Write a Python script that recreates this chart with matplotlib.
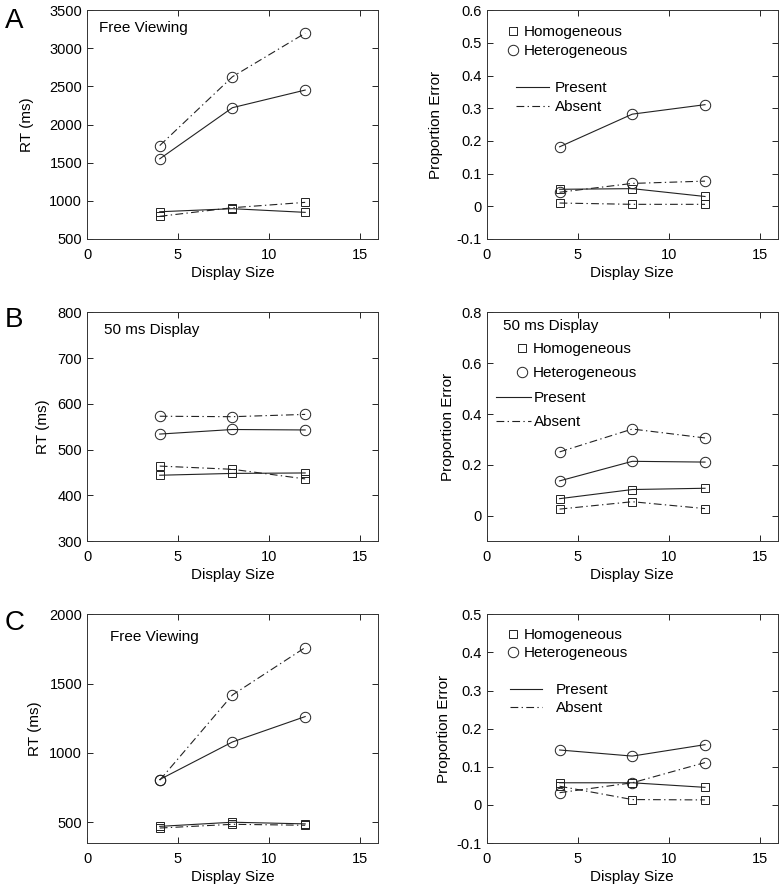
import numpy as np
import matplotlib
matplotlib.use("Agg")
import matplotlib.pyplot as plt
from matplotlib.lines import Line2D
from matplotlib.ticker import FormatStrFormatter

plt.rcParams['font.family'] = ['Liberation Sans', 'DejaVu Sans']
plt.rcParams['font.size'] = 10.5

# Dữ liệu
sizes = [4, 8, 12]

# A - Free Viewing
a_rt_hom_present = [857, 897, 849]
a_rt_hom_absent = [797, 910, 980]
a_rt_het_present = [1551, 2222, 2453]
a_rt_het_absent = [1725, 2628, 3199]
a_err_hom_present = [0.052, 0.054, 0.030]
a_err_hom_absent = [0.010, 0.006, 0.006]
a_err_het_present = [0.182, 0.282, 0.311]
a_err_het_absent = [0.043, 0.070, 0.077]

# B - 50 ms Display
b_rt_hom_present = [444, 448, 449]
b_rt_hom_absent = [464, 457, 436]
b_rt_het_present = [534, 544, 543]
b_rt_het_absent = [573, 572, 577]
b_err_hom_present = [0.067, 0.103, 0.108]
b_err_hom_absent = [0.026, 0.055, 0.028]
b_err_het_present = [0.137, 0.214, 0.211]
b_err_het_absent = [0.251, 0.341, 0.306]

# C - Free Viewing
c_rt_hom_present = [470, 500, 488]
c_rt_hom_absent = [458, 485, 478]
c_rt_het_present = [808, 1079, 1262]
c_rt_het_absent = [803, 1418, 1760]
c_err_hom_present = [0.058, 0.058, 0.046]
c_err_hom_absent = [0.049, 0.014, 0.013]
c_err_het_present = [0.144, 0.128, 0.158]
c_err_het_absent = [0.032, 0.058, 0.111]

DASHDOT = (0, (7, 3, 1.2, 3))
LW = 0.8
COL = '#222222'


def draw(ax, hp, ha, tp, ta):
    ax.plot(sizes, hp, color=COL, lw=LW, ls='-', marker='s', ms=5.5, mfc='none', mec=COL, mew=0.7)
    ax.plot(sizes, ha, color=COL, lw=LW, ls=DASHDOT, marker='s', ms=5.5, mfc='none', mec=COL, mew=0.7)
    ax.plot(sizes, tp, color=COL, lw=LW, ls='-', marker='o', ms=7.5, mfc='none', mec=COL, mew=0.7)
    ax.plot(sizes, ta, color=COL, lw=LW, ls=DASHDOT, marker='o', ms=7.5, mfc='none', mec=COL, mew=0.7)


def style(ax, ylim, yticks, ylabel, lpad, fmt=None):
    ax.set_xlim(0, 16)
    ax.set_xticks([0, 5, 10, 15])
    ax.set_ylim(*ylim)
    ax.set_yticks(yticks)
    if fmt:
        ax.yaxis.set_major_formatter(FormatStrFormatter(fmt))
    ax.tick_params(direction='in', top=True, right=True, length=4, width=0.6, labelsize=10.5)
    ax.tick_params(axis='x', pad=6.5)
    for s in ax.spines.values():
        s.set_linewidth(0.7)
        s.set_color('#333333')
    ax.set_xlabel('Display Size', fontsize=11, labelpad=3)
    ax.set_ylabel(ylabel, fontsize=11, labelpad=lpad)


def legends(ax, y1, y2, x1, x2, ls1, ls2, hl2, tp2):
    mk = [Line2D([], [], ls='none', marker='s', ms=6, mfc='none', mec=COL, mew=0.7),
          Line2D([], [], ls='none', marker='o', ms=7.5, mfc='none', mec=COL, mew=0.7)]
    l1 = ax.legend(mk, ['Homogeneous', 'Heterogeneous'], loc='upper left', bbox_to_anchor=(x1, y1),
                   frameon=False, handlelength=0.8, handletextpad=0.3, labelspacing=ls1,
                   fontsize=11, borderpad=0, borderaxespad=0)
    ax.add_artist(l1)
    ln = [Line2D([], [], color=COL, lw=LW, ls='-'),
          Line2D([], [], color=COL, lw=LW, ls=DASHDOT)]
    ax.legend(ln, ['Present', 'Absent'], loc='upper left', bbox_to_anchor=(x2, y2),
              frameon=False, handlelength=hl2, handletextpad=tp2, labelspacing=ls2,
              fontsize=11, borderpad=0, borderaxespad=0)


fig = plt.figure(figsize=(7.84, 8.90), dpi=100)
lx, rx, w = 0.111, 0.621, 0.371
h = 0.257
rows = [0.7315, 0.392, 0.0528]

# Row A
ax = fig.add_axes([lx, rows[0], w, h])
draw(ax, a_rt_hom_present, a_rt_hom_absent, a_rt_het_present, a_rt_het_absent)
style(ax, (500, 3500), np.arange(500, 3501, 500), 'RT (ms)', 11)
ax.text(0.04, 0.955, 'Free Viewing', transform=ax.transAxes, fontsize=11, va='top')

ax = fig.add_axes([rx, rows[0], w, h])
draw(ax, a_err_hom_present, a_err_hom_absent, a_err_het_present, a_err_het_absent)
style(ax, (-0.1, 0.6), np.round(np.arange(-0.1, 0.61, 0.1), 1), 'Proportion Error', 10, '%g')
legends(ax, 0.935, 0.69, x1=0.07, x2=0.10, ls1=0.33, ls2=0.33, hl2=2.15, tp2=0.4)

# Row B
ax = fig.add_axes([lx, rows[1], w, h])
draw(ax, b_rt_hom_present, b_rt_hom_absent, b_rt_het_present, b_rt_het_absent)
style(ax, (300, 800), np.arange(300, 801, 100), 'RT (ms)', 5.5)
ax.text(0.06, 0.955, '50 ms Display', transform=ax.transAxes, fontsize=11, va='top')

ax = fig.add_axes([rx, rows[1], w, h])
draw(ax, b_err_hom_present, b_err_hom_absent, b_err_het_present, b_err_het_absent)
style(ax, (-0.1, 0.8), [0, 0.2, 0.4, 0.6, 0.8], 'Proportion Error', 5, '%g')
ax.text(0.055, 0.97, '50 ms Display', transform=ax.transAxes, fontsize=11, va='top')
legends(ax, 0.87, 0.655, x1=0.10, x2=0.03, ls1=0.65, ls2=0.65, hl2=2.3, tp2=0.2)

# Row C
ax = fig.add_axes([lx, rows[2], w, h])
draw(ax, c_rt_hom_present, c_rt_hom_absent, c_rt_het_present, c_rt_het_absent)
style(ax, (350, 2000), [500, 1000, 1500, 2000], 'RT (ms)', 5.5)
ax.text(0.08, 0.93, 'Free Viewing', transform=ax.transAxes, fontsize=11, va='top')

ax = fig.add_axes([rx, rows[2], w, h])
draw(ax, c_err_hom_present, c_err_hom_absent, c_err_het_present, c_err_het_absent)
style(ax, (-0.1, 0.5), np.round(np.arange(-0.1, 0.51, 0.1), 1), 'Proportion Error', 4.5, '%g')
legends(ax, 0.94, 0.70, x1=0.07, x2=0.08, ls1=0.26, ls2=0.26, hl2=2.1, tp2=0.9)

# Nhãn A, B, C
for lab, yy in zip(['A', 'B', 'C'], [0.991, 0.655, 0.315]):
    fig.text(0.006, yy, lab, fontsize=20, va='top', ha='left')

fig.savefig('out.png', dpi=100)
